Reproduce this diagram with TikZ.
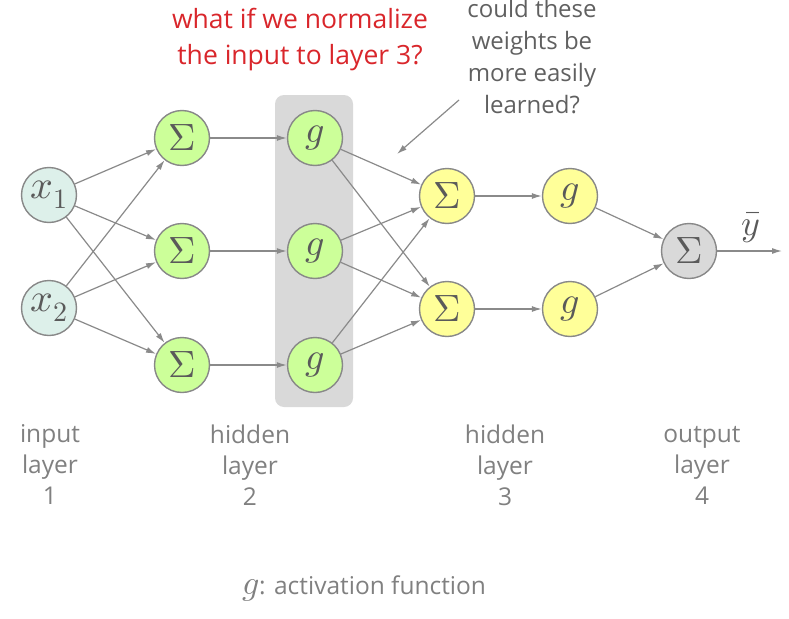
\documentclass[tikz,border=0pt]{standalone}
\usepackage{fontspec}
\usepackage{unicode-math}
\setmainfont{Open Sans}
\setmathfont{Latin Modern Math}
\usetikzlibrary{arrows.meta}
\definecolor{edgegray}{HTML}{8A8A8A}
\definecolor{ringgray}{HTML}{888888}
\definecolor{inputfill}{HTML}{DDF0EA}
\definecolor{hidtwofill}{HTML}{CCFF99}
\definecolor{hidthreefill}{HTML}{FFFF99}
\definecolor{outfill}{HTML}{D9D9D9}
\definecolor{normred}{HTML}{D9262B}
\definecolor{qgray}{HTML}{606060}
\definecolor{labgray}{HTML}{808080}
\definecolor{mathgray}{HTML}{5A5A5A}
\tikzset{
  neuron/.style={circle, draw=ringgray, line width=1.4pt, minimum size=55pt, inner sep=0pt,
    text=mathgray, font=\fontsize{38}{40}\selectfont},
  innode/.style={neuron, fill=inputfill, font=\fontsize{40}{42}\selectfont},
  hidtwo/.style={neuron, fill=hidtwofill},
  hidthree/.style={neuron, fill=hidthreefill},
  outnode/.style={neuron, fill=outfill},
  conn/.style={draw=edgegray, line width=1.2pt, -{Latex[length=10pt,width=6pt]}},
  labtext/.style={text=labgray, align=center, font=\fontsize{24.5}{31}\selectfont},
}
\begin{document}
\begin{tikzpicture}[x=1pt, y=-1pt]
\useasboundingbox (0,0) rectangle (789,618);
% highlight box
\fill[outfill, rounded corners=9pt] (275,95) rectangle (353,407);
% nodes
\node[innode] (xa) at (49,195) {$x_1$};
\node[innode] (xb) at (49,308) {$x_2$};
\node[hidtwo] (sa) at (182,138) {$\Sigma$};
\node[hidtwo] (sb) at (182,251) {$\Sigma$};
\node[hidtwo] (sc) at (182,365) {$\Sigma$};
\node[hidtwo] (ga) at (315,138) {$g$};
\node[hidtwo] (gb) at (315,251) {$g$};
\node[hidtwo] (gc) at (315,365) {$g$};
\node[hidthree] (ta) at (447,196) {$\Sigma$};
\node[hidthree] (tb) at (447,309) {$\Sigma$};
\node[hidthree] (ha) at (570,196) {$g$};
\node[hidthree] (hb) at (570,309) {$g$};
\node[outnode] (o) at (689,251) {$\Sigma$};
\coordinate (oend) at (782,251);
\coordinate (qstart) at (459,100);
\coordinate (qend) at (397,154);
% edges
\foreach \i in {xa,xb}{\foreach \j in {sa,sb,sc}{\draw[conn] (\i) -- (\j);}}
\draw[conn] (sa) -- (ga);
\draw[conn] (sb) -- (gb);
\draw[conn] (sc) -- (gc);
\foreach \i in {ga,gb,gc}{\foreach \j in {ta,tb}{\draw[conn] (\i) -- (\j);}}
\draw[conn] (ta) -- (ha);
\draw[conn] (tb) -- (hb);
\draw[conn] (ha) -- (o);
\draw[conn] (hb) -- (o);
\draw[conn] (o) -- (oend);
\draw[conn] (qstart) -- (qend);
% labels
\node[text=mathgray, inner sep=0pt, font=\fontsize{36}{38}\selectfont] (ybar) at (751,228) {$\bar{y}$};
\node[text=normred, align=center, font=\fontsize{26.5}{36}\selectfont] (norm) at (300,40) {what if we normalize\\the input to layer 3?};
\node[text=qgray, align=center, font=\fontsize{24}{32}\selectfont] (quest) at (532,57) {could these\\weights be\\more easily\\learned?};
\node[labtext] (la) at (50,465) {input\\layer\\1};
\node[labtext] (lb) at (250,465) {hidden\\layer\\2};
\node[labtext] (lc) at (505,465) {hidden\\layer\\3};
\node[labtext] (ld) at (702,465) {output\\layer\\4};
\node[text=labgray, font=\fontsize{24.5}{31}\selectfont] (act) at (364,589) {{\fontsize{34}{34}\selectfont$g$}: activation function};
\end{tikzpicture}
\end{document}
